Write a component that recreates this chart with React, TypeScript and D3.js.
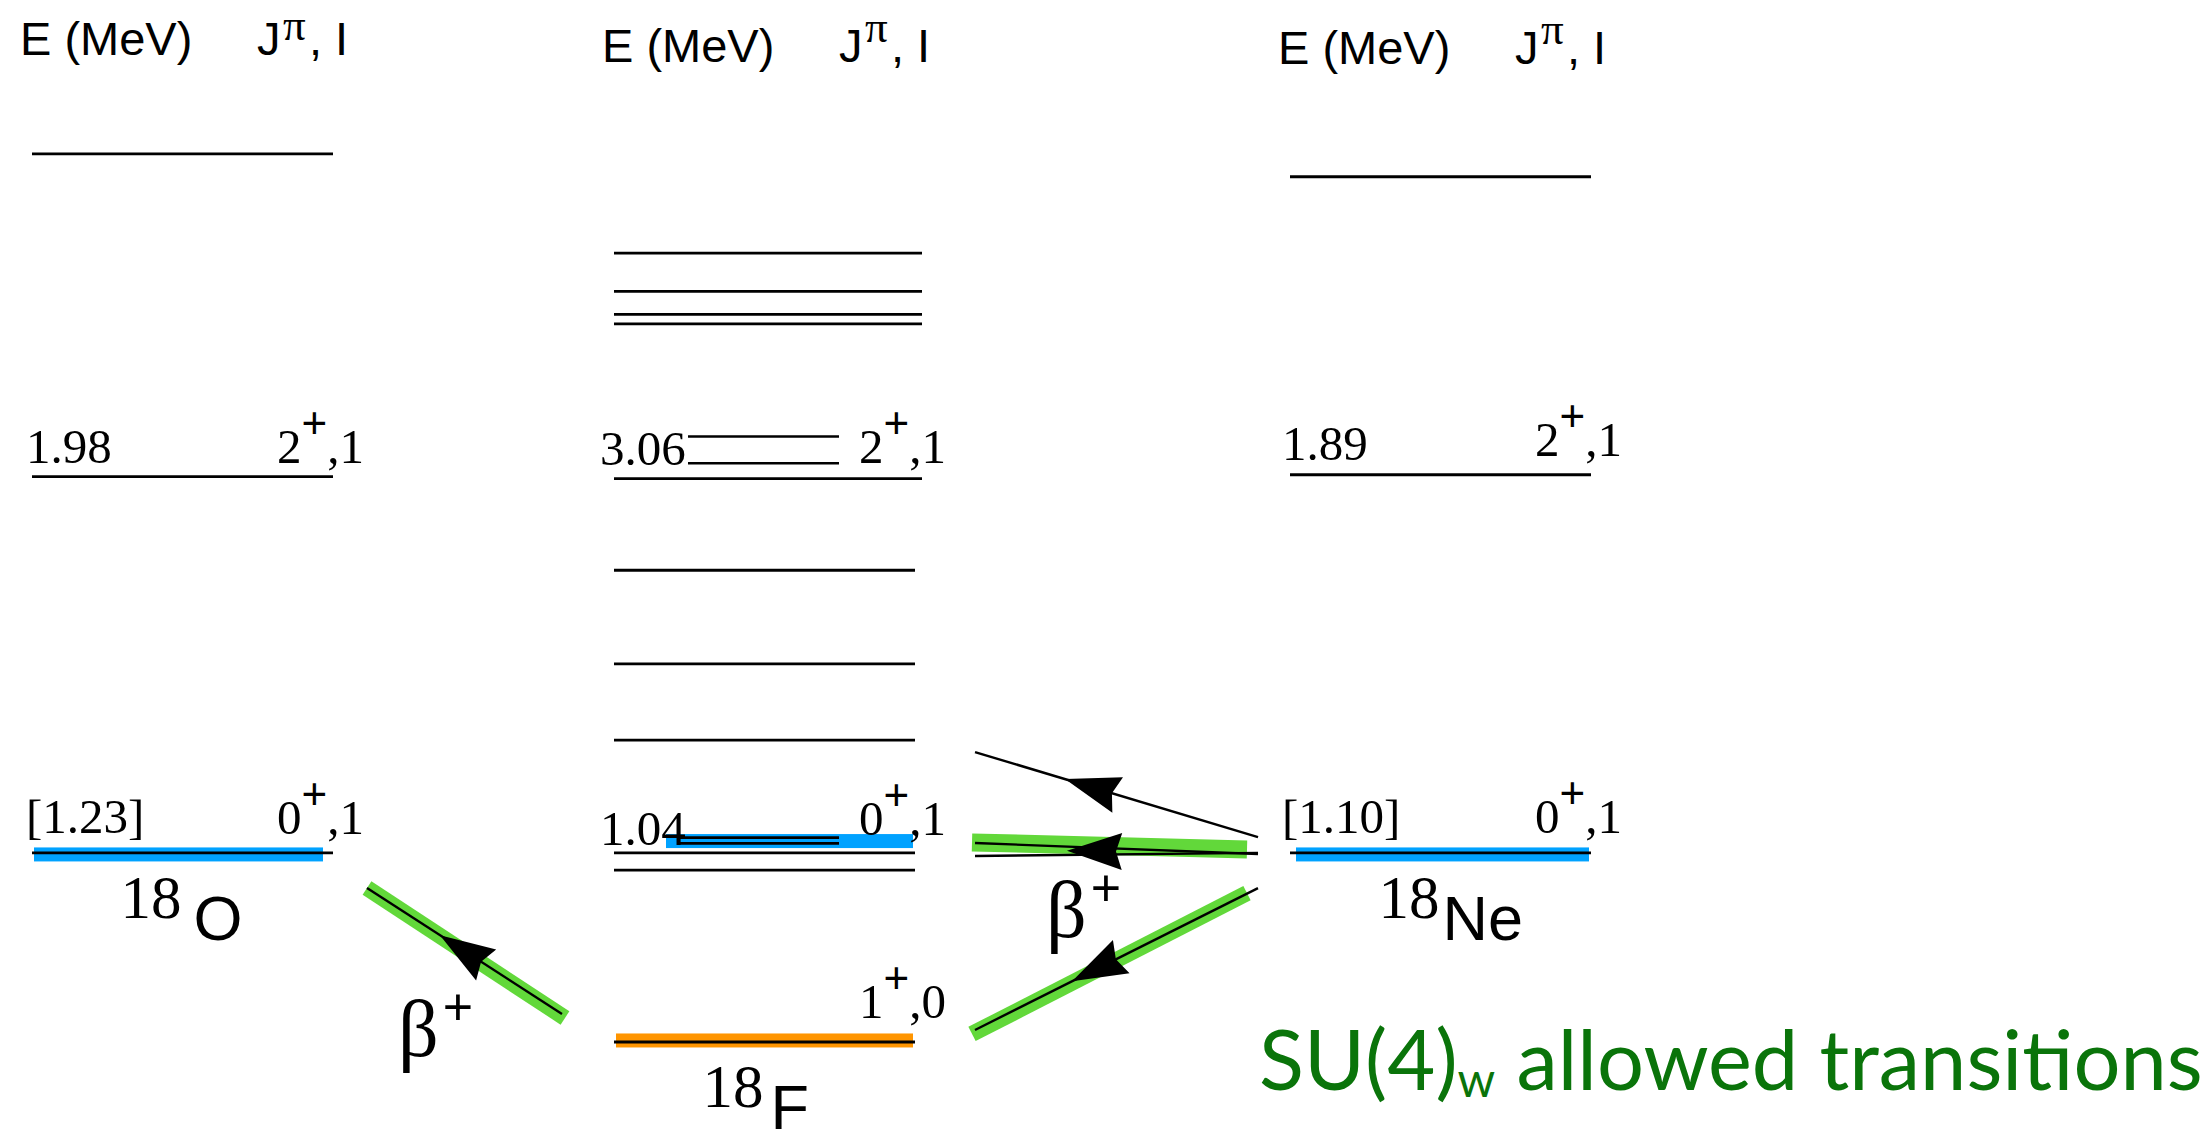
import * as d3 from 'd3';

// Level energies as drawn (MeV, on a common scale where the 18F ground state is 0)
const o18Levels = [4.65, 2.96, 0.99];
const f18Levels = [4.13, 3.93, 3.81, 3.76, 2.95, 2.47, 1.98, 1.58, 0.99, 0.9, 0];
const f18ShortLevels = [3.17, 3.03, 1.07, 1.04];
const ne18Levels = [4.53, 2.97, 0.99];

// states highlighted with a colour band
const highlightedStates = [
  { nucleus: 'O', energy: 0.982, isospin: 1 },
  { nucleus: 'F', energy: 1.052, isospin: 1 },
  { nucleus: 'F', energy: 0.008, isospin: 0 },
  { nucleus: 'Ne', energy: 0.982, isospin: 1 },
];

// energy labels (left of the level) and J^pi,I labels (right of the level)
const energyLabels = [
  { nucleus: 'O', at: 3.03, text: '1.98' },
  { nucleus: 'O', at: 1.094, text: '[1.23]' },
  { nucleus: 'F', at: 3.02, text: '3.06' },
  { nucleus: 'F', at: 1.031, text: '1.04' },
  { nucleus: 'Ne', at: 3.047, text: '1.89' },
  { nucleus: 'Ne', at: 1.094, text: '[1.10]' },
];
const spinLabels = [
  { nucleus: 'O', at: 3.03, j: '2', iso: '1' },
  { nucleus: 'O', at: 1.09, j: '0', iso: '1' },
  { nucleus: 'F', at: 3.03, j: '2', iso: '1' },
  { nucleus: 'F', at: 1.085, j: '0', iso: '1' },
  { nucleus: 'F', at: 0.126, j: '1', iso: '0' },
  { nucleus: 'Ne', at: 3.07, j: '2', iso: '1' },
  { nucleus: 'Ne', at: 1.094, j: '0', iso: '1' },
];

// beta transitions: energy at the left and right end of each line
const betaLines = [
  { gap: 'OF', left: 0.806, right: 0.147 },
  { gap: 'FNe', left: 1.518, right: 1.073 },
  { gap: 'FNe', left: 1.042, right: 0.984 },
  { gap: 'FNe', left: 0.974, right: 0.99 },
  { gap: 'FNe', left: 0.063, right: 0.806 },
];
// SU(4) allowed transitions (green bands)
const allowedBands = [
  { gap: 'OF', left: 0.806, right: 0.136 },
  { gap: 'FNe', left: 1.045, right: 1.008 },
  { gap: 'FNe', left: 0.042, right: 0.78 },
];
// arrow heads, all pointing to the left end; at = tip position along the line
const arrowHeads = [
  { gap: 'OF', left: 0.806, right: 0.147, at: 0.374 },
  { gap: 'FNe', left: 1.518, right: 1.073, at: 0.318 },
  { gap: 'FNe', left: 1.008, right: 0.987, at: 0.325 },
  { gap: 'FNe', left: 0.063, right: 0.806, at: 0.343 },
];
const betaLabels = [
  { gap: 'OF', at: -0.073 },
  { gap: 'FNe', at: 0.55 },
];

const nuclei = [
  { key: 'O', mass: '18', symbol: 'O', levels: o18Levels, ground: 0.99 },
  { key: 'F', mass: '18', symbol: 'F', levels: f18Levels, ground: 0 },
  { key: 'Ne', mass: '18', symbol: 'Ne', levels: ne18Levels, ground: 0.99 },
];

// ---- layout ----
const W = 2201;
const H = 1131;
const columns: any = {
  O: { x0: 32, x1: 333, header: 55, labelDx: -6, symDx: 12 },
  F: { x0: 614, x1: 915, header: 62, labelDx: -14, symDx: 7 },
  Ne: { x0: 1290, x1: 1591, header: 64, labelDx: -8, symDx: 3 },
};
const gaps: any = {
  OF: { x0: 367, x1: 562, bx0: 367, bx1: 565, betaX: 398 },
  FNe: { x0: 975, x1: 1258, bx0: 972, bx1: 1247, betaX: 1046 },
};

const COLORS = {
  t1: '#00a2ff',
  t0: '#ff9500',
  allowed: '#62d83a',
  su4: '#0a740a',
};
const SERIF = '"Liberation Serif", "Times New Roman", serif';
const SANS = '"Liberation Sans", Arial, Helvetica, sans-serif';

const y = d3.scaleLinear().domain([0, 1]).range([1042, 851]);

function headPath(g: any, left: number, right: number, at: number) {
  const p0 = [g.x0, y(left)];
  const p1 = [g.x1, y(right)];
  const dx = p1[0] - p0[0];
  const dy = p1[1] - p0[1];
  const len = Math.hypot(dx, dy);
  const u = [dx / len, dy / len];
  const n = [-u[1], u[0]];
  const L = 55;
  const hw = 18.5;
  const notch = 6;
  const tip = [p0[0] + dx * at, p0[1] + dy * at];
  const base = [tip[0] + u[0] * L, tip[1] + u[1] * L];
  const c1 = [base[0] + n[0] * hw, base[1] + n[1] * hw];
  const c2 = [base[0] - n[0] * hw, base[1] - n[1] * hw];
  const mid = [tip[0] + u[0] * (L - notch), tip[1] + u[1] * (L - notch)];
  const path = d3.path();
  path.moveTo(tip[0], tip[1]);
  path.lineTo(c1[0], c1[1]);
  path.lineTo(mid[0], mid[1]);
  path.lineTo(c2[0], c2[1]);
  path.closePath();
  return path.toString();
}

export default function App() {
  return (
    <svg
      width={W}
      height={H}
      viewBox={`0 0 ${W} ${H}`}
      style={{ position: 'absolute', left: 0, top: 0, background: '#fff' }}
    >
      {/* column headers */}
      {nuclei.map((n) => {
        const c = columns[n.key];
        const hx = c.x0 - 12;
        const piY = Math.max(c.header - 20, 40);
        return (
          <g key={`h-${n.key}`} fontFamily={SANS} fontSize={47} fill="#000">
            <text x={hx} y={c.header}>E (MeV)</text>
            <text x={hx + 237} y={c.header}>J</text>
            <text x={hx + 263} y={piY} fontFamily={SERIF} fontSize={45}>π</text>
            <text x={hx + 289} y={c.header}>, I</text>
          </g>
        );
      })}

      {/* colour bands under the highlighted states */}
      {highlightedStates.map((s, i) => {
        const c = columns[s.nucleus];
        const bx0 = s.nucleus === 'F' && s.isospin === 1 ? 666 : c.x0 + (s.nucleus === 'Ne' ? 6 : 2);
        const bx1 = s.nucleus === 'O' ? c.x1 - 10 : c.x1 - 2;
        return (
          <rect
            key={`band-${i}`}
            x={bx0}
            y={y(s.energy) - 7}
            width={bx1 - bx0}
            height={14}
            fill={s.isospin === 1 ? COLORS.t1 : COLORS.t0}
          />
        );
      })}

      {/* levels */}
      {nuclei.map((n) => {
        const c = columns[n.key];
        return n.levels.map((e, i) => (
          <line
            key={`lv-${n.key}-${i}`}
            x1={c.x0}
            x2={n.key === 'F' && e > 2.9 ? c.x1 + 7 : c.x1}
            y1={y(e)}
            y2={y(e)}
            stroke="#000"
            strokeWidth={2.8}
          />
        ));
      })}
      {f18ShortLevels.map((e, i) => (
        <line
          key={`short-${i}`}
          x1={e > 2 ? 688 : 680}
          x2={839}
          y1={y(e)}
          y2={y(e)}
          stroke="#000"
          strokeWidth={2.6}
        />
      ))}

      {/* energy labels */}
      {energyLabels.map((l, i) => {
        const c = columns[l.nucleus];
        return (
          <text key={`el-${i}`} x={c.x0 + c.labelDx} y={y(l.at)} fontFamily={SERIF} fontSize={49}>
            {l.text}
          </text>
        );
      })}

      {/* J^pi, I labels */}
      {spinLabels.map((l, i) => {
        const c = columns[l.nucleus];
        return (
          <text key={`sl-${i}`} x={c.x1 - 56} y={y(l.at)} fontFamily={SERIF} fontSize={49}>
            {l.j}
            <tspan dy={-25} fontFamily={SANS} fontSize={44}>+</tspan>
            <tspan dy={25}>{`,${l.iso}`}</tspan>
          </text>
        );
      })}

      {/* nucleus names */}
      {nuclei.map((n) => {
        const c = columns[n.key];
        const cx = (c.x0 + c.x1) / 2;
        return (
          <text key={`nm-${n.key}`} x={cx - 62} y={y(n.ground) + 65}>
            <tspan fontFamily={SERIF} fontSize={61}>{n.mass}</tspan>
            <tspan fontFamily={SANS} fontSize={63} dx={c.symDx} dy={22}>
              {n.symbol}
            </tspan>
          </text>
        );
      })}

      {/* allowed transitions */}
      {allowedBands.map((b, i) => {
        const g = gaps[b.gap];
        const s = d3.scaleLinear().domain([g.x0, g.x1]).range([y(b.left), y(b.right)]);
        const isLine = b.gap === 'OF';
        const x0 = g.bx0;
        const x1 = g.bx1;
        return (
          <line
            key={`ab-${i}`}
            x1={x0}
            x2={x1}
            y1={isLine ? s(x0) : y(b.left)}
            y2={isLine ? s(x1) : y(b.right)}
            stroke={COLORS.allowed}
            strokeWidth={i === 1 ? 18 : 16}
          />
        );
      })}

      {/* beta lines */}
      {betaLines.map((b, i) => {
        const g = gaps[b.gap];
        return (
          <line
            key={`bl-${i}`}
            x1={g.x0}
            x2={g.x1}
            y1={y(b.left)}
            y2={y(b.right)}
            stroke="#000"
            strokeWidth={2.4}
          />
        );
      })}
      {arrowHeads.map((a, i) => (
        <path key={`ah-${i}`} d={headPath(gaps[a.gap], a.left, a.right, a.at)} fill="#000" />
      ))}

      {/* beta+ labels */}
      {betaLabels.map((b, i) => (
        <text key={`bt-${i}`} x={gaps[b.gap].betaX} y={y(b.at)} fontFamily={SERIF} fontSize={80}>
          β
          <tspan dx={4} dy={-31} fontFamily={SANS} fontSize={52}>+</tspan>
        </text>
      ))}

      {/* caption */}
      <text x={1259} y={1090} fontFamily='Lato, "Open Sans", sans-serif' fontSize={83} fill={COLORS.su4}>
        SU(4)
        <tspan fontSize={48} dy={7}>w</tspan>
        <tspan dy={-7}> allowed transitions</tspan>
      </text>
    </svg>
  );
}
